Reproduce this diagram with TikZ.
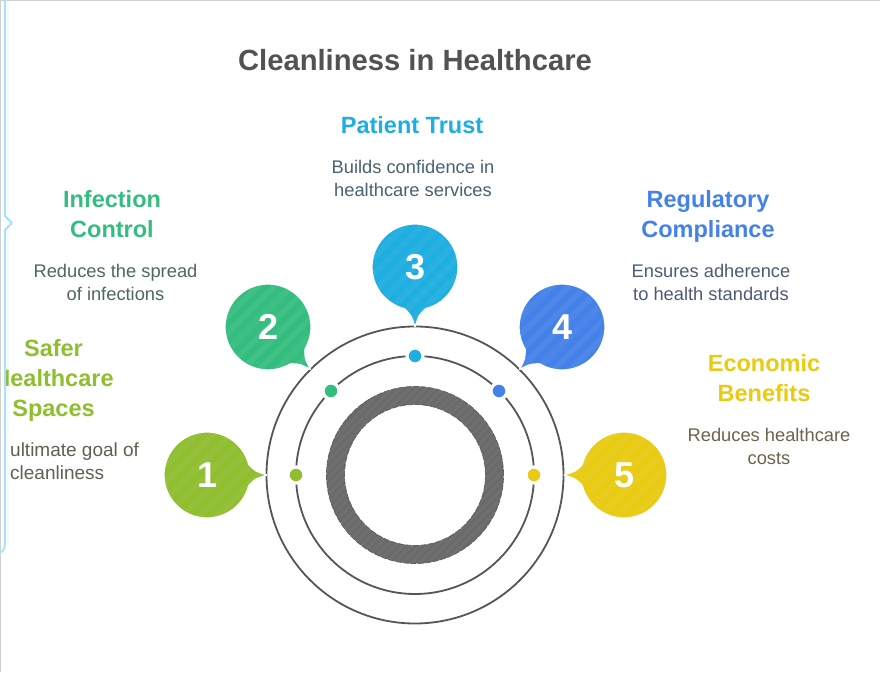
\documentclass[tikz,border=0pt]{standalone}
\usepackage{fontspec}
\setmainfont{Liberation Sans}
\definecolor{cA}{HTML}{8FBE2F}
\definecolor{cB}{HTML}{35BD7F}
\definecolor{cC}{HTML}{1EAEE0}
\definecolor{cD}{HTML}{4481E9}
\definecolor{cE}{HTML}{E8CB12}
\definecolor{hE}{HTML}{E8CB12}
\definecolor{dA}{HTML}{5C6350}
\definecolor{dB}{HTML}{4F6661}
\definecolor{dC}{HTML}{4A6171}
\definecolor{dD}{HTML}{4E5B76}
\definecolor{dE}{HTML}{69644A}
\definecolor{ringc}{HTML}{565656}
\definecolor{thickc}{HTML}{6A6A6A}
\definecolor{blueline}{HTML}{A6E1FF}
\definecolor{greyline}{HTML}{CFCFCF}
\tikzset{
  heading/.style={font=\fontsize{23.5}{30}\selectfont\bfseries,align=center,anchor=center,inner sep=0pt},
  desc/.style={font=\fontsize{18.3}{23}\selectfont,align=center,anchor=center,inner sep=0pt},
  numeral/.style={font=\fontsize{36}{36}\selectfont\bfseries,text=white,inner sep=0pt},
  ringline/.style={draw=ringc,line width=1.8pt},
  dotmark/.style={circle,minimum size=16pt,inner sep=0pt,draw=white,line width=3.2pt}
}
% name, cx, cy, direction of tip, colour, number
\newcommand{\bubbleoutline}{(60,0) .. controls (48,4) .. (14:43pt) arc[start angle=14,end angle=346,radius=43pt] .. controls (48,-4) .. (60,0) -- cycle}
\newcommand{\speechbubble}[6]{%
  \begin{scope}[shift={(#2,#3)},rotate=#4]
    \path[fill=#5,draw=white,line width=1.2pt,line join=round] \bubbleoutline;
    \begin{scope}
      \clip \bubbleoutline;
      \begin{scope}[rotate=-#4]
        \foreach \k in {-12,...,12}
          \draw[white,opacity=.05,line width=6pt] (-70+\k*8.5,-70-\k*8.5) -- (70+\k*8.5,70-\k*8.5);
      \end{scope}
    \end{scope}
  \end{scope}
  \node[numeral] (#1) at (#2+0.8,#3) {#6};%
}
\begin{document}
\begin{tikzpicture}[x=1pt,y=1pt]
\useasboundingbox (0,0) rectangle (880,672);
\fill[white] (0,0) rectangle (880,672);
% window frame
\fill[blue!2!white] (6,127) rectangle (10,672);
\draw[greyline,line width=1pt] (0.5,0) -- (0.5,671.5) -- (880,671.5);
\draw[blueline,line width=1.8pt,line join=round] (5,672) -- (5,456) -- (12,449) -- (5,442) -- (5,129) to[out=-90,in=30] (0,119);
% title
\node[font=\fontsize{29.2}{34}\selectfont\bfseries,text=black!68,inner sep=0pt] (title) at (415,612) {Cleanliness in Healthcare};
% rings
\coordinate (hub) at (415,197);
\draw[ringline] (hub) circle[radius=148.5pt];
\draw[ringline] (hub) circle[radius=119pt];
\draw[thickc,line width=18pt] (hub) circle[radius=79.5pt];
\begin{scope}[even odd rule]
  \clip (hub) circle[radius=88.5pt] (hub) circle[radius=70.5pt];
  \foreach \k in {-24,...,24}
    \draw[white,opacity=.04,line width=3pt] (415-100+\k*4.2,197-100-\k*4.2) -- (415+100+\k*4.2,197+100-\k*4.2);
\end{scope}
\draw[black!62,line width=.8pt,dash pattern=on 6pt off 1.5pt] (hub) circle[radius=88.5pt];
\draw[black!62,line width=.8pt,dash pattern=on 6pt off 1.5pt] (hub) circle[radius=70.5pt];
% dots
\node[dotmark,fill=cA] (dot1) at (296,197) {};
\node[dotmark,fill=cB] (dot2) at (331,281) {};
\node[dotmark,fill=cC] (dot3) at (415,316) {};
\node[dotmark,fill=cD] (dot4) at (499,281) {};
\node[dotmark,fill=cE] (dot5) at (534,197) {};
% bubbles
\speechbubble{num1}{207}{197}{0}{cA}{1}
\speechbubble{num2}{268}{345}{-45}{cB}{2}
\speechbubble{num3}{415}{405}{-90}{cC}{3}
\speechbubble{num4}{562}{345}{-135}{cD}{4}
\speechbubble{num5}{624}{197}{180}{cE}{5}
% texts
\begin{scope}
  \clip (6,0) rectangle (880,672);
  \node[heading,text=cA] (head1) at (53.5,292) {Safer\\Healthcare\\Spaces};
\end{scope}
\node[desc,text=dA,align=left,anchor=west,font=\fontsize{19}{23}\selectfont] (desc1) at (10,211) {ultimate goal of\\cleanliness};
\node[heading,text=cB] (head2) at (112,458) {Infection\\Control};
\node[desc,text=dB] (desc2) at (115.5,390) {Reduces the spread\\of infections};
\node[heading,text=cC] (head3) at (412,547) {Patient Trust};
\node[desc,text=dC] (desc3) at (413,494) {Builds confidence in\\healthcare services};
\node[heading,text=cD] (head4) at (708,456) {Regulatory\\Compliance};
\node[desc,text=dD] (desc4) at (711,390) {Ensures adherence\\to health standards};
\node[heading,text=hE] (head5) at (764,294) {Economic\\Benefits};
\node[desc,text=dE] (desc5) at (769,226) {Reduces healthcare\\costs};
\end{tikzpicture}
\end{document}
